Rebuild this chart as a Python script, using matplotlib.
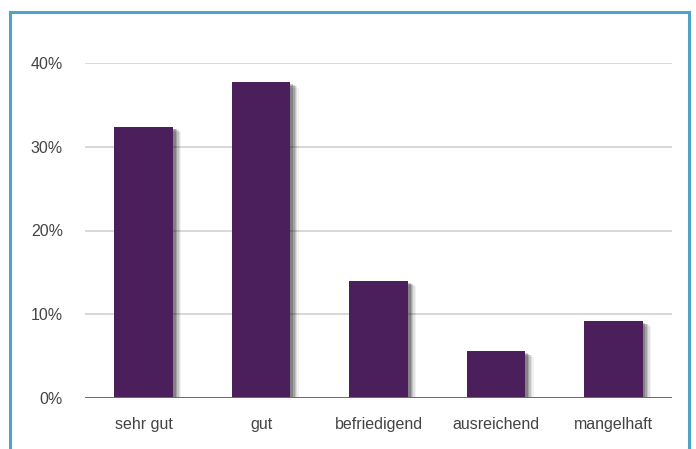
import matplotlib
matplotlib.use("Agg")
import matplotlib.pyplot as plt
import matplotlib.patheffects as pe
from matplotlib.patches import Rectangle

categories = ["sehr gut", "gut", "befriedigend", "ausreichend", "mangelhaft"]
values = [32.4, 37.7, 14.0, 5.6, 9.2]
yticks = [0, 10, 20, 30, 40]
ytick_labels = ["0%", "10%", "20%", "30%", "40%"]

W, H = 696, 449
fig = plt.figure(figsize=(W / 100, H / 100), dpi=100)
fig.patch.set_facecolor("white")

# blue frame
fig.add_artist(Rectangle((10 / W, -0.05), (689 - 10) / W, (H - 12) / H + 0.05,
                         transform=fig.transFigure, fill=False,
                         edgecolor="#4fa3c9", linewidth=2.2))

ax = fig.add_axes([85 / W, 1 - 398 / H, (672 - 85) / W, (398 - 63) / H])
ax.set_xlim(-0.5, len(categories) - 0.5)
ax.set_ylim(0, 40)

shadow = [pe.SimplePatchShadow(offset=(6, -4), shadow_rgbFace="#000000", alpha=0.05),
          pe.SimplePatchShadow(offset=(5, -3), shadow_rgbFace="#000000", alpha=0.08),
          pe.SimplePatchShadow(offset=(4, -2.5), shadow_rgbFace="#000000", alpha=0.12),
          pe.SimplePatchShadow(offset=(3, -2), shadow_rgbFace="#000000", alpha=0.16),
          pe.SimplePatchShadow(offset=(2, -1.5), shadow_rgbFace="#000000", alpha=0.2),
          pe.Normal()]
bars = ax.bar(range(len(categories)), values, width=0.5, color="#4b1f5b",
              zorder=3)
for b in bars:
    b.set_path_effects(shadow)

for y in yticks[1:]:
    ax.axhline(y, color="#d2d2d2", linewidth=1.2, zorder=1)
ax.axhline(0, color="#6a6a6a", linewidth=1.4, zorder=4)

for s in ax.spines.values():
    s.set_visible(False)
ax.set_yticks(yticks)
ax.set_yticklabels(ytick_labels)
ax.set_xticks(range(len(categories)))
ax.set_xticklabels(categories)
ax.tick_params(axis="both", length=0, labelsize=11.5, labelcolor="#444444",
               labelfontfamily="Liberation Sans")
ax.tick_params(axis="y", pad=16)
ax.tick_params(axis="x", pad=14)
ax.set_facecolor("white")

fig.savefig("out.png", dpi=100)
